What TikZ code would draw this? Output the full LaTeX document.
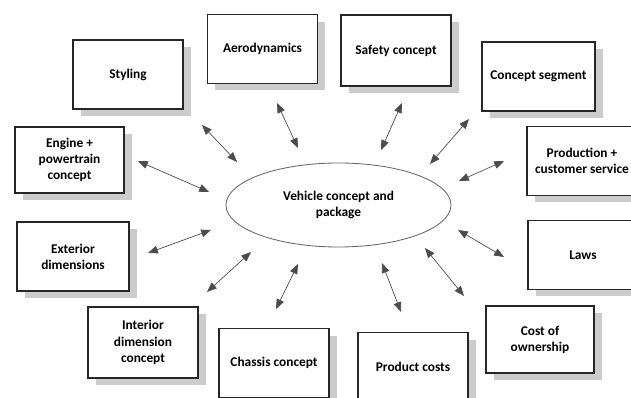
\documentclass[tikz,border=0pt]{standalone}
\usepackage{fontspec}
\setsansfont{Carlito}
\usetikzlibrary{shapes.geometric,shadows,arrows.meta}

\tikzset{
	topic/.style={draw=black!85, line width=0.9pt, fill=white, align=center,
		font=\sffamily\bfseries\fontsize{9.5}{11.5}\selectfont,
		minimum width=2.75cm, minimum height=1.72cm, inner sep=2pt,
		drop shadow={shadow xshift=5.5pt, shadow yshift=-5pt, fill=black!20, opacity=1}},
	hub/.style={ellipse, draw=black!60, line width=0.6pt, align=center,
		font=\sffamily\bfseries\fontsize{9.5}{11.5}\selectfont,
		minimum width=5.625cm, minimum height=2.1cm},
	link/.style={{Triangle[length=7pt,width=5.5pt]}-{Triangle[length=7pt,width=5.5pt]},
		draw=black!70, line width=0.5pt}
}

\begin{document}
\begin{tikzpicture}[x=0.025cm,y=-0.025cm]

	\useasboundingbox (0,0) rectangle (631,398);

	\node[hub] (pkg) at (338.5,205) {Vehicle concept and\\package};

	\node[topic] (styling) at (128,74.5) {Styling};
	\node[topic] (aero) at (262.5,49) {Aerodynamics};
	\node[topic, minimum height=1.77cm] (safety) at (396,50.5) {Safety concept};
	\node[topic, minimum width=2.82cm] (segment) at (538.5,76.5) {Concept segment};
	\node[topic] (prod) at (582,161) {Production +\\customer service};
	\node[topic] (laws) at (583,255) {Laws};
	\node[topic, minimum width=2.7cm, minimum height=1.67cm] (own) at (540,339.5) {Cost of\\ownership};
	\node[topic] (pcost) at (413,367) {Product costs};
	\node[topic] (chassis) at (274,363) {Chassis concept};
	\node[topic, minimum height=1.77cm] (interior) at (143,342.5) {Interior\\dimension\\concept};
	\node[topic, minimum width=2.8cm] (exterior) at (73,256.5) {Exterior\\dimensions};
	\node[topic, minimum width=2.72cm, minimum height=1.65cm] (engine) at (69.5,160) {Engine +\\powertrain\\concept};

	\coordinate (sty1) at (202,125);  \coordinate (sty2) at (237,162);
	\coordinate (aer1) at (277,103);  \coordinate (aer2) at (298,148);
	\coordinate (saf1) at (402,103);  \coordinate (saf2) at (381,150);
	\coordinate (seg1) at (469,119);  \coordinate (seg2) at (430,164);
	\coordinate (pro1) at (504,161);  \coordinate (pro2) at (459,181);
	\coordinate (law1) at (504,257);  \coordinate (law2) at (458,230);
	\coordinate (own1) at (464,296);  \coordinate (own2) at (425,248);
	\coordinate (pco1) at (401,312);  \coordinate (pco2) at (382,263);
	\coordinate (cha1) at (276,309);  \coordinate (cha2) at (298,264);
	\coordinate (int1) at (207,292);  \coordinate (int2) at (251,252);
	\coordinate (ext1) at (148,253);  \coordinate (ext2) at (211,230);
	\coordinate (eng1) at (138,161);  \coordinate (eng2) at (209,192);

	\draw[link] (sty1) -- (sty2);
	\draw[link] (aer1) -- (aer2);
	\draw[link] (saf1) -- (saf2);
	\draw[link] (seg1) -- (seg2);
	\draw[link] (pro1) -- (pro2);
	\draw[link] (law1) -- (law2);
	\draw[link] (own1) -- (own2);
	\draw[link] (pco1) -- (pco2);
	\draw[link] (cha1) -- (cha2);
	\draw[link] (int1) -- (int2);
	\draw[link] (ext1) -- (ext2);
	\draw[link] (eng1) -- (eng2);

\end{tikzpicture}
\end{document}
